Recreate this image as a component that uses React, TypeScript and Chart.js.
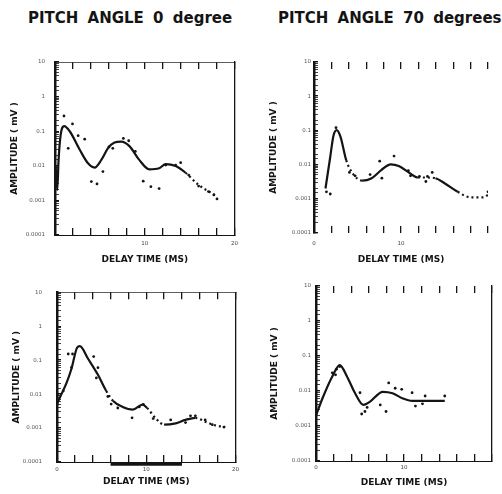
import React, { useEffect, useRef } from "react";
import { Chart, registerables } from "chart.js";

Chart.register(...registerables);

const FONT = "'DejaVu Sans', 'Liberation Sans', sans-serif";
const INK = "#141414";

// ---------- texts ----------
const titleLeft = "PITCH ANGLE 0 degree";
const titleRight = "PITCH ANGLE 70 degrees";
const xTitle = "DELAY TIME (MS)";
const yTitle = "AMPLITUDE ( mV )";

// ---------- axes ----------
const xMin = 0;
const xMax = 20;
const xStep = 2;
const yMin = 0.0001;
const yMax = 10;
const yDecadeLabels = ["0.0001", "0.001", "0.01", "0.1", "1", "10"]; // 1e-4 .. 1e1

// ---------- panel 1 : pitch 0, upper ----------
const p1CurveX = [0.05, 0.25, 0.4, 0.63, 1.03, 1.66, 2.76, 3.68, 4.42, 5.16, 5.89, 6.63, 7.37, 8.29, 9.39, 10.5, 11.6, 12.34, 13.44, 14.55, 16.0, 17.5, 18.05];
const p1CurveY = [0.0105, 0.002, 0.0148, 0.078, 0.141, 0.098, 0.029, 0.0118, 0.0089, 0.0148, 0.032, 0.047, 0.05, 0.037, 0.0148, 0.0079, 0.0085, 0.0112, 0.0098, 0.0063, 0.0028, 0.0016, 0.0013];
const p1DotsX = [1.0, 1.47, 1.95, 2.58, 3.31, 4.05, 4.68, 5.34, 6.0, 6.44, 7.62, 8.21, 8.95, 9.83, 10.68, 11.6, 12.34, 13.44, 14.0, 14.9, 16.0, 17.1, 17.7, 18.05];
const p1DotsY = [0.275, 0.032, 0.162, 0.074, 0.059, 0.0035, 0.003, 0.0068, 0.035, 0.032, 0.062, 0.053, 0.026, 0.0036, 0.0025, 0.0022, 0.0105, 0.0105, 0.0123, 0.0054, 0.0026, 0.0018, 0.00144, 0.0011];
const p1XLabels = [10, 20];

// ---------- panel 2 : pitch 70, upper ----------
const p2CurveX = [1.32, 1.87, 2.23, 2.6, 3.04, 3.7, 4.43, 5.53, 6.63, 7.73, 8.82, 9.74, 11.02, 11.94, 12.86, 13.96, 15.05, 16.52, 17.99, 19.45, 20];
const p2CurveY = [0.002, 0.017, 0.069, 0.102, 0.066, 0.0135, 0.0056, 0.0034, 0.004, 0.0069, 0.0102, 0.0091, 0.0056, 0.0042, 0.0042, 0.004, 0.0028, 0.0016, 0.0011, 0.0011, 0.0013];
const p2DotsX = [1.43, 1.87, 2.53, 4.07, 4.73, 6.45, 7.55, 7.8, 9.2, 10.85, 11.1, 12.12, 12.86, 13.04, 13.59, 20];
const p2DotsY = [0.0016, 0.00138, 0.12, 0.0059, 0.0047, 0.0051, 0.0126, 0.004, 0.0178, 0.0066, 0.0047, 0.0045, 0.0032, 0.0045, 0.0059, 0.0016];
const p2XLabels = [0, 10];

// ---------- panel 3 : pitch 0, lower ----------
const p3CurveX = [0, 0.41, 1.07, 1.63, 2.26, 2.56, 3.48, 4.59, 5.52, 6.26, 7.37, 8.48, 9.59, 10.1, 11.08, 12.0, 13.3, 14.4, 15.5, 16.6, 17.74, 18.85];
const p3CurveY = [0.0051, 0.0089, 0.0214, 0.057, 0.236, 0.26, 0.11, 0.037, 0.0124, 0.0064, 0.0042, 0.0035, 0.0049, 0.0039, 0.0019, 0.00126, 0.00138, 0.00174, 0.002, 0.00155, 0.0012, 0.00107];
const p3DotsX = [0.04, 0.7, 1.26, 1.74, 1.63, 4.11, 4.59, 4.41, 5.7, 6.07, 6.81, 8.41, 9.22, 9.67, 10.78, 12.74, 14.4, 14.96, 15.5, 16.6, 17.4, 18.7];
const p3DotsY = [0.0093, 0.0124, 0.152, 0.152, 0.061, 0.128, 0.06, 0.03, 0.0085, 0.0051, 0.0039, 0.002, 0.0042, 0.005, 0.0019, 0.00174, 0.00145, 0.0023, 0.0023, 0.00174, 0.00126, 0.00107];
const p3XLabels = [0, 10, 20];
const p3BarX = [6, 14];
const p3BarY = 0.000087;

// ---------- panel 4 : pitch 70, lower ----------
const p4CurveX = [0, 0.74, 1.85, 2.7, 3.52, 4.44, 5.37, 6.11, 7.59, 8.7, 9.81, 10.92, 12.03, 14.63];
const p4CurveY = [0.002, 0.0062, 0.026, 0.055, 0.026, 0.0086, 0.004, 0.0049, 0.0095, 0.0086, 0.0062, 0.0052, 0.0052, 0.0052];
const p4DotsX = [1.85, 2.22, 2.33, 2.7, 5.0, 5.19, 5.56, 5.81, 7.3, 7.96, 8.26, 9.0, 9.74, 10.92, 11.3, 12.1, 12.4, 14.63];
const p4DotsY = [0.033, 0.029, 0.042, 0.05, 0.0089, 0.0022, 0.0026, 0.0034, 0.004, 0.0026, 0.017, 0.012, 0.0112, 0.0089, 0.0037, 0.0043, 0.0072, 0.0072];
const p4XLabels = [0, 10];

type PanelSpec = {
  x: number; y: number; w: number; h: number;
  yAxisWidth: number; xAxisHeight: number; padTop: number; padRight: number;
  yTitlePad: number; xTitlePad: number; yLabelPad: number; xLabelPad: number;
  curveX: number[]; curveY: number[]; dotsX: number[]; dotsY: number[];
  xLabels: number[];
  dashRanges: number[][];
  topBorder: boolean; bottomBorder: boolean; rightBorder: "solid" | "dash" | "none";
  barX?: number[]; barY?: number;
};

const panels: PanelSpec[] = [
  {
    x: 0, y: 40, w: 250, h: 230, yAxisWidth: 55, xAxisHeight: 35, padTop: 22, padRight: 14,
    yTitlePad: 9, xTitlePad: 5, yLabelPad: 14, xLabelPad: 12,
    curveX: p1CurveX, curveY: p1CurveY, dotsX: p1DotsX, dotsY: p1DotsY, xLabels: p1XLabels,
    dashRanges: [[14.6, 21]], topBorder: true, bottomBorder: true, rightBorder: "solid",
  },
  {
    x: 251, y: 40, w: 251, h: 230, yAxisWidth: 63, xAxisHeight: 37, padTop: 22, padRight: 6,
    yTitlePad: 17, xTitlePad: 5, yLabelPad: 7, xLabelPad: 14,
    curveX: p2CurveX, curveY: p2CurveY, dotsX: p2DotsX, dotsY: p2DotsY, xLabels: p2XLabels,
    dashRanges: [[3.6, 5.6], [11.9, 13.9], [16.0, 21]], topBorder: false, bottomBorder: false, rightBorder: "none",
  },
  {
    x: 0, y: 270, w: 250, h: 224, yAxisWidth: 57, xAxisHeight: 32, padTop: 16, padRight: 13,
    yTitlePad: 11, xTitlePad: 7, yLabelPad: 19, xLabelPad: 11,
    curveX: p3CurveX, curveY: p3CurveY, dotsX: p3DotsX, dotsY: p3DotsY, xLabels: p3XLabels,
    dashRanges: [[5.5, 6.3], [10.0, 12.0], [15.5, 21]], topBorder: true, bottomBorder: true, rightBorder: "solid",
    barX: p3BarX, barY: p3BarY,
  },
  {
    x: 251, y: 270, w: 251, h: 224, yAxisWidth: 65, xAxisHeight: 33, padTop: 16, padRight: 6,
    yTitlePad: 18, xTitlePad: 6, yLabelPad: 9, xLabelPad: 10,
    curveX: p4CurveX, curveY: p4CurveY, dotsX: p4DotsX, dotsY: p4DotsY, xLabels: p4XLabels,
    dashRanges: [], topBorder: false, bottomBorder: true, rightBorder: "dash",
  },
];

function decadeLabel(v: number): string {
  const l = Math.log10(v);
  const e = Math.round(l);
  if (Math.abs(l - e) < 1e-6) {
    const idx = e + 4;
    return yDecadeLabels[idx] ?? "";
  }
  return "";
}

function Panel({ spec }: { spec: PanelSpec }) {
  const ref = useRef<HTMLCanvasElement>(null);
  useEffect(() => {
    const canvas = ref.current;
    if (!canvas) return;
    const inDash = (a: number, b: number) => {
      const m = (a + b) / 2;
      return spec.dashRanges.some((r) => m >= r[0] && m <= r[1]);
    };
    const datasets: any[] = [
      {
        type: "line",
        data: spec.curveX.map((x, i) => ({ x, y: spec.curveY[i] })),
        borderColor: INK,
        borderWidth: 2.2,
        pointRadius: 0,
        fill: false,
        cubicInterpolationMode: "monotone",
        segment: {
          borderDash: (ctx: any) => (inDash(ctx.p0.parsed.x, ctx.p1.parsed.x) ? [2, 3] : undefined),
        },
      },
      {
        type: "scatter",
        data: spec.dotsX.map((x, i) => ({ x, y: spec.dotsY[i] })),
        pointRadius: 1.4,
        pointBackgroundColor: INK,
        pointBorderWidth: 0,
        showLine: false,
      },
    ];
    if (spec.barX && spec.barY) {
      datasets.push({
        type: "line",
        data: spec.barX.map((x) => ({ x, y: spec.barY })),
        borderColor: INK,
        borderWidth: 3.5,
        pointRadius: 0,
        clip: false,
      });
    }
    const tickFont = { family: FONT, size: 5.5 };
    const titleFont = { family: FONT, size: 9, weight: "bold" as const };
    const chart = new Chart(canvas, {
      type: "line",
      data: { datasets },
      options: {
        animation: false,
        responsive: false,
        devicePixelRatio: 1,
        layout: { autoPadding: false, padding: { top: spec.padTop, right: spec.padRight, bottom: 0, left: 0 } },
        plugins: { legend: { display: false }, tooltip: { enabled: false }, title: { display: false } },
        scales: {
          x: {
            type: "linear",
            position: "bottom",
            min: xMin,
            max: xMax,
            afterFit: (s: any) => { s.height = spec.xAxisHeight; },
            ticks: {
              stepSize: xStep,
              autoSkip: false,
              maxRotation: 0,
              padding: spec.xLabelPad,
              font: tickFont,
              color: "#444",
              callback: (v: any) => (spec.xLabels.includes(Number(v)) ? String(v) : ""),
            },
            grid: { display: true, drawOnChartArea: false, drawTicks: true, tickLength: -7, color: INK, lineWidth: 1.3 },
            border: { display: spec.bottomBorder, color: INK, width: 1 },
            title: { display: true, text: xTitle, color: INK, font: titleFont, padding: { top: 0, bottom: spec.xTitlePad } },
          },
          x2: {
            type: "linear",
            position: "top",
            min: xMin,
            max: xMax,
            afterFit: (s: any) => { s.height = 0; },
            ticks: { stepSize: xStep, autoSkip: false, display: false },
            grid: { display: true, drawOnChartArea: false, drawTicks: true, tickLength: -7, color: INK, lineWidth: 1.3 },
            border: { display: spec.topBorder, color: "#333", width: 0.8 },
          },
          y: {
            type: "logarithmic",
            position: "left",
            min: yMin,
            max: yMax,
            afterFit: (s: any) => { s.width = spec.yAxisWidth; },
            ticks: {
              autoSkip: false,
              padding: spec.yLabelPad,
              font: tickFont,
              color: "#555",
              callback: (v: any) => decadeLabel(Number(v)),
            },
            grid: {
              display: true,
              drawOnChartArea: false,
              drawTicks: true,
              tickLength: -4,
              color: INK,
              lineWidth: (ctx: any) => (ctx.tick && ctx.tick.major ? 1.4 : 0.8),
            },
            border: { display: true, color: INK, width: 2.5 },
            title: { display: true, text: yTitle, color: INK, font: titleFont, padding: { top: spec.yTitlePad, bottom: 0 } },
          },
          y2: {
            type: "logarithmic",
            position: "right",
            min: yMin,
            max: yMax,
            afterFit: (s: any) => { s.width = 0; },
            ticks: { display: false },
            grid: { display: false },
            border: {
              display: spec.rightBorder !== "none",
              color: INK,
              width: 1.3,
              dash: spec.rightBorder === "dash" ? [4, 3] : [],
            },
          },
        },
      } as any,
    });
    return () => chart.destroy();
  }, [spec]);
  return (
    <canvas
      ref={ref}
      width={spec.w}
      height={spec.h}
      style={{ position: "absolute", left: spec.x, top: spec.y, width: spec.w, height: spec.h }}
    />
  );
}

const titleStyle: React.CSSProperties = {
  position: "absolute",
  top: 10,
  fontFamily: FONT,
  fontWeight: "bold",
  fontSize: 15,
  lineHeight: "16px",
  color: INK,
  wordSpacing: 4,
  whiteSpace: "nowrap",
};

export default function App() {
  return (
    <div style={{ position: "absolute", left: 0, top: 0, width: 502, height: 494, background: "#fff", overflow: "hidden" }}>
      <div style={{ ...titleStyle, left: 28 }}>{titleLeft}</div>
      <div style={{ ...titleStyle, left: 278 }}>{titleRight}</div>
      {panels.map((p, i) => (
        <Panel key={i} spec={p} />
      ))}
    </div>
  );
}
